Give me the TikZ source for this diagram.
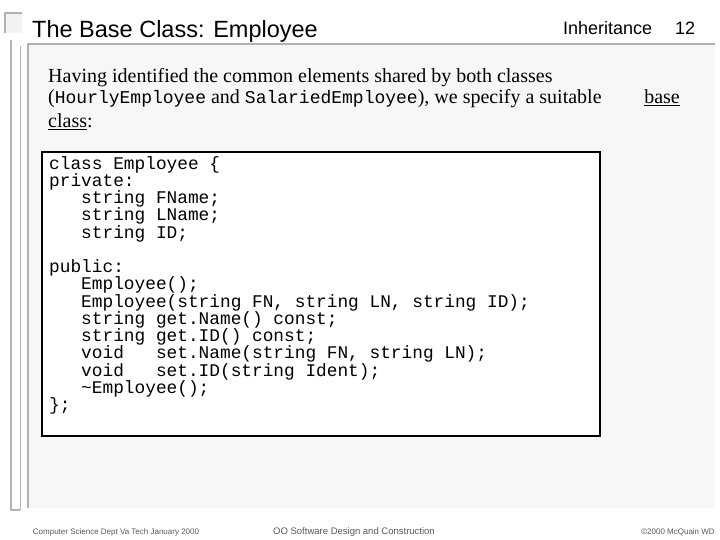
\documentclass[tikz,border=0pt]{standalone}
\usepackage{fontspec}
\setmainfont{Liberation Serif}
\setsansfont{Liberation Sans}
\setmonofont{Liberation Mono}
\begin{document}
\begin{tikzpicture}[x=1pt,y=-1pt]

    \tikzstyle{body}=[inner sep=0pt,anchor=base west,font=\fontsize{20}{21}\selectfont]
    \tikzstyle{foot}=[inner sep=0pt,anchor=base,font=\sffamily\fontsize{8}{10}\selectfont,gray!70!black]
    \colorlet{panel}{gray!6}

\useasboundingbox (0,0) rectangle (720,540);

% frame decoration
\fill[gray!10] (5,13) rectangle (22,33);
\draw[gray!60,line width=1.5pt] (5,33) -- (5,13) -- (22,13);
\draw[gray!60,line width=1.5pt] (11,40) -- (11,510) -- (20,510);
\fill[panel] (28,44) rectangle (715,508);
\draw[gray!60,line width=1.5pt] (28,508) -- (28,44) -- (715,44);
\draw[gray!60,line width=1pt] (20,46) -- (20,510);

% header
\node (title) [anchor=base west,inner sep=0pt,font=\sffamily\fontsize{23.5}{26}\selectfont] at (32,38) {The Base Class: Employee};
\node (topic) [anchor=base west,inner sep=0pt,font=\sffamily\fontsize{18}{20}\selectfont] at (563,35) {Inheritance};
\node (page) [anchor=base west,inner sep=0pt,font=\sffamily\fontsize{18}{20}\selectfont] at (675,35) {12};

% intro text
\node (line_1) [body] at (48,83) {Having identified the common elements shared by both classes};
\node (line_2) [body] at (48,104) {(\texttt{\fontsize{18}{20}\selectfont HourlyEmployee} and \texttt{\fontsize{18}{20}\selectfont SalariedEmployee}), we specify a suitable};
\node (base) [body,anchor=base east] at (680,104) {\underline{base}};
\node (line_3) [body] at (48,128) {\underline{class}:};

% code box
\draw[fill=white,line width=1.8pt] (42,152) rectangle (600,436);
\node (code) [anchor=north west,inner sep=0pt,align=left,font=\ttfamily\fontsize{17.8}{17.25}\selectfont] at (49,156) {%
class Employee \{\\
private:\\
\ \ \ string FName;\\
\ \ \ string LName;\\
\ \ \ string ID;\\
\mbox{}\\
public:\\
\ \ \ Employee();\\
\ \ \ Employee(string FN, string LN, string ID);\\
\ \ \ string get.Name() const;\\
\ \ \ string get.ID() const;\\
\ \ \ void\ \ \ set.Name(string FN, string LN);\\
\ \ \ void\ \ \ set.ID(string Ident);\\
\ \ \ \textasciitilde Employee();\\
\};};

% footer
\node (foot_left) [foot] at (116,534) {Computer Science Dept Va Tech January 2000};
\node (foot_mid) [foot,font=\sffamily\fontsize{9.5}{10}\selectfont] at (354,534) {OO Software Design and Construction};
\node (foot_right) [foot] at (678,534) {\textcopyright 2000 McQuain WD};

\end{tikzpicture}
\end{document}
